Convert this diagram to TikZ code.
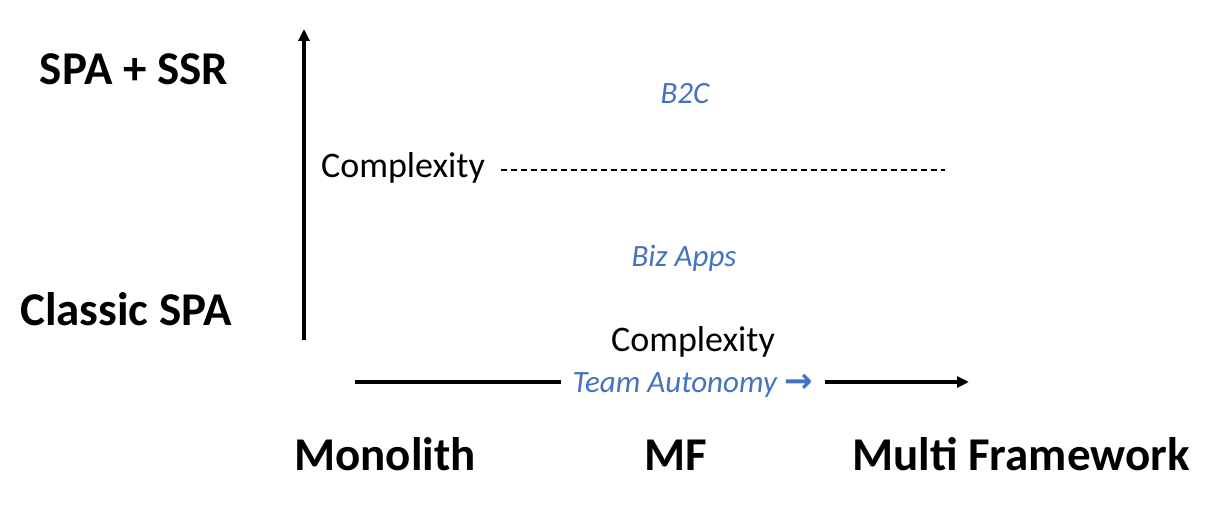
\documentclass[tikz,border=0pt]{standalone}
\usepackage{fontspec}
\setmainfont{Carlito}
\newfontfamily\arrowfont{DejaVu Sans}
\usetikzlibrary{arrows.meta}
\definecolor{teamblue}{HTML}{4472C4}

\begin{document}
\begin{tikzpicture}[x=1pt, y=-1pt,
  axislabel/.style={font=\fontsize{47}{50}\selectfont\bfseries, inner sep=0pt, anchor=base},
  plain/.style={font=\fontsize{36}{40}\selectfont, inner sep=0pt, anchor=base},
  note/.style={font=\fontsize{31}{34}\selectfont\itshape, text=teamblue, inner sep=0pt, anchor=base},
  axis/.style={line width=3.5pt, -{Triangle[length=12pt,width=11pt]}}]
\useasboundingbox (0,0) rectangle (1209,510);
% vertical axis
\node[axislabel] (ssr) at (134,85) {SPA + SSR};
\node[axislabel] (classic) at (126,325) {Classic SPA};
\coordinate (vstart) at (304,340);
\coordinate (vend) at (304,29);
\draw[axis] (vstart) -- (vend);
\node[plain] (cplxv) at (403,178) {Complexity};
\coordinate (dashend) at (945,170);
\draw[line width=1.5pt, dash pattern=on 6pt off 4pt, shorten <=16pt] (cplxv.east |- dashend) -- (dashend);
\node[note] (b2c) at (685,104) {B2C};
\node[note] (biz) at (684,267) {Biz Apps};
% horizontal axis
\node[plain] (cplxh) at (693,352) {Complexity};
\node[note, inner xsep=11pt] (team) at (693,392) {Team Autonomy\hspace{8pt}{\arrowfont\fontsize{34}{36}\selectfont\bfseries\upshape →}};
\coordinate (hstart) at (355,382);
\coordinate (hend) at (969,382);
\draw[line width=3.5pt] (hstart) -- (hstart -| team.west);
\draw[axis] (hstart -| team.east) -- (hend);
\node[axislabel] (mono) at (385,470) {Monolith};
\node[axislabel] (mf) at (676,470) {MF};
\node[axislabel] (multi) at (1021,470) {Multi Framework};
\end{tikzpicture}
\end{document}
